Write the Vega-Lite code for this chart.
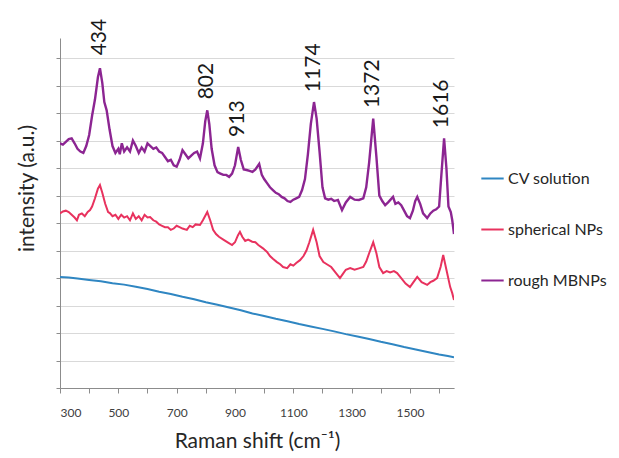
{
  "$schema": "https://vega.github.io/schema/vega-lite/v6.json",
  "width": 394,
  "height": 350,
  "autosize": "none",
  "padding": {"left": 60, "top": 38, "right": 165, "bottom": 70},
  "config": {"view": {"stroke": null}, "font": "Lato"},
  "datasets": {
    "cv": [
      {"shift": 300, "intensity": 4.04}, {"shift": 330, "intensity": 4.02}, {"shift": 360, "intensity": 3.98}, {"shift": 400, "intensity": 3.93},
      {"shift": 440, "intensity": 3.88}, {"shift": 480, "intensity": 3.81}, {"shift": 520, "intensity": 3.76}, {"shift": 560, "intensity": 3.68},
      {"shift": 600, "intensity": 3.6}, {"shift": 640, "intensity": 3.5}, {"shift": 680, "intensity": 3.42}, {"shift": 720, "intensity": 3.32},
      {"shift": 760, "intensity": 3.23}, {"shift": 800, "intensity": 3.12}, {"shift": 840, "intensity": 3.03}, {"shift": 880, "intensity": 2.93},
      {"shift": 920, "intensity": 2.83}, {"shift": 960, "intensity": 2.71}, {"shift": 1000, "intensity": 2.62}, {"shift": 1040, "intensity": 2.52},
      {"shift": 1080, "intensity": 2.43}, {"shift": 1120, "intensity": 2.33}, {"shift": 1160, "intensity": 2.24}, {"shift": 1200, "intensity": 2.15},
      {"shift": 1240, "intensity": 2.06}, {"shift": 1280, "intensity": 1.96}, {"shift": 1320, "intensity": 1.87}, {"shift": 1360, "intensity": 1.78},
      {"shift": 1400, "intensity": 1.68}, {"shift": 1440, "intensity": 1.59}, {"shift": 1480, "intensity": 1.49}, {"shift": 1520, "intensity": 1.4},
      {"shift": 1560, "intensity": 1.31}, {"shift": 1600, "intensity": 1.22}, {"shift": 1630, "intensity": 1.16}, {"shift": 1651, "intensity": 1.12}
    ],
    "spherical": [
      {"shift": 300, "intensity": 6.35}, {"shift": 310, "intensity": 6.42}, {"shift": 320, "intensity": 6.45}, {"shift": 330, "intensity": 6.4},
      {"shift": 340, "intensity": 6.3}, {"shift": 350, "intensity": 6.2}, {"shift": 358, "intensity": 6.1}, {"shift": 365, "intensity": 6.3},
      {"shift": 375, "intensity": 6.35}, {"shift": 385, "intensity": 6.25}, {"shift": 395, "intensity": 6.4}, {"shift": 403, "intensity": 6.47},
      {"shift": 410, "intensity": 6.6}, {"shift": 420, "intensity": 6.9}, {"shift": 430, "intensity": 7.25}, {"shift": 437, "intensity": 7.38},
      {"shift": 445, "intensity": 7.1}, {"shift": 455, "intensity": 6.7}, {"shift": 465, "intensity": 6.4}, {"shift": 471, "intensity": 6.36},
      {"shift": 480, "intensity": 6.25}, {"shift": 490, "intensity": 6.3}, {"shift": 500, "intensity": 6.15}, {"shift": 510, "intensity": 6.3},
      {"shift": 520, "intensity": 6.2}, {"shift": 530, "intensity": 6.25}, {"shift": 540, "intensity": 6.1}, {"shift": 550, "intensity": 6.35},
      {"shift": 560, "intensity": 6.15}, {"shift": 570, "intensity": 6.25}, {"shift": 580, "intensity": 6.1}, {"shift": 590, "intensity": 6.3},
      {"shift": 600, "intensity": 6.2}, {"shift": 609, "intensity": 6.22}, {"shift": 620, "intensity": 6.1}, {"shift": 630, "intensity": 6.05},
      {"shift": 640, "intensity": 5.95}, {"shift": 650, "intensity": 5.9}, {"shift": 660, "intensity": 5.85}, {"shift": 670, "intensity": 5.85},
      {"shift": 680, "intensity": 5.75}, {"shift": 690, "intensity": 5.8}, {"shift": 700, "intensity": 5.9}, {"shift": 710, "intensity": 5.85},
      {"shift": 720, "intensity": 5.8}, {"shift": 735, "intensity": 5.75}, {"shift": 745, "intensity": 5.9}, {"shift": 755, "intensity": 5.85},
      {"shift": 765, "intensity": 5.95}, {"shift": 780, "intensity": 5.93}, {"shift": 790, "intensity": 6.1}, {"shift": 805, "intensity": 6.4},
      {"shift": 815, "intensity": 6.1}, {"shift": 825, "intensity": 5.75}, {"shift": 835, "intensity": 5.6}, {"shift": 845, "intensity": 5.5},
      {"shift": 860, "intensity": 5.4}, {"shift": 875, "intensity": 5.3}, {"shift": 890, "intensity": 5.2}, {"shift": 900, "intensity": 5.3},
      {"shift": 910, "intensity": 5.55}, {"shift": 917, "intensity": 5.68}, {"shift": 925, "intensity": 5.5}, {"shift": 935, "intensity": 5.35},
      {"shift": 945, "intensity": 5.4}, {"shift": 959, "intensity": 5.32}, {"shift": 970, "intensity": 5.3}, {"shift": 980, "intensity": 5.2},
      {"shift": 996, "intensity": 5.08}, {"shift": 1010, "intensity": 4.95}, {"shift": 1020, "intensity": 4.8}, {"shift": 1030, "intensity": 4.7},
      {"shift": 1044, "intensity": 4.58}, {"shift": 1055, "intensity": 4.5}, {"shift": 1065, "intensity": 4.4}, {"shift": 1079, "intensity": 4.36},
      {"shift": 1090, "intensity": 4.5}, {"shift": 1100, "intensity": 4.45}, {"shift": 1110, "intensity": 4.55}, {"shift": 1123, "intensity": 4.65},
      {"shift": 1135, "intensity": 4.8}, {"shift": 1145, "intensity": 5.0}, {"shift": 1155, "intensity": 5.3}, {"shift": 1168, "intensity": 5.75},
      {"shift": 1180, "intensity": 5.3}, {"shift": 1190, "intensity": 4.8}, {"shift": 1203, "intensity": 4.58}, {"shift": 1215, "intensity": 4.5},
      {"shift": 1230, "intensity": 4.4}, {"shift": 1245, "intensity": 4.2}, {"shift": 1260, "intensity": 4.0}, {"shift": 1270, "intensity": 4.15},
      {"shift": 1280, "intensity": 4.3}, {"shift": 1295, "intensity": 4.36}, {"shift": 1310, "intensity": 4.3}, {"shift": 1325, "intensity": 4.35},
      {"shift": 1340, "intensity": 4.4}, {"shift": 1350, "intensity": 4.6}, {"shift": 1360, "intensity": 4.9}, {"shift": 1374, "intensity": 5.3},
      {"shift": 1385, "intensity": 4.9}, {"shift": 1395, "intensity": 4.4}, {"shift": 1408, "intensity": 4.18}, {"shift": 1420, "intensity": 4.25},
      {"shift": 1432, "intensity": 4.2}, {"shift": 1445, "intensity": 4.25}, {"shift": 1456, "intensity": 4.18}, {"shift": 1470, "intensity": 4.0},
      {"shift": 1485, "intensity": 3.8}, {"shift": 1500, "intensity": 3.67}, {"shift": 1512, "intensity": 3.85}, {"shift": 1525, "intensity": 4.04},
      {"shift": 1540, "intensity": 3.85}, {"shift": 1559, "intensity": 3.75}, {"shift": 1570, "intensity": 3.85}, {"shift": 1580, "intensity": 3.9},
      {"shift": 1593, "intensity": 4.0}, {"shift": 1605, "intensity": 4.4}, {"shift": 1614, "intensity": 4.84}, {"shift": 1625, "intensity": 4.3},
      {"shift": 1638, "intensity": 3.67}, {"shift": 1645, "intensity": 3.45}, {"shift": 1651, "intensity": 3.2}
    ],
    "rough": [
      {"shift": 300, "intensity": 8.9}, {"shift": 310, "intensity": 8.85}, {"shift": 320, "intensity": 8.95}, {"shift": 330, "intensity": 9.05},
      {"shift": 340, "intensity": 9.08}, {"shift": 350, "intensity": 8.9}, {"shift": 360, "intensity": 8.7}, {"shift": 370, "intensity": 8.6},
      {"shift": 380, "intensity": 8.55}, {"shift": 390, "intensity": 8.8}, {"shift": 400, "intensity": 9.2}, {"shift": 410, "intensity": 9.9},
      {"shift": 420, "intensity": 10.5}, {"shift": 430, "intensity": 11.3}, {"shift": 437, "intensity": 11.63}, {"shift": 445, "intensity": 11.1},
      {"shift": 452, "intensity": 10.4}, {"shift": 460, "intensity": 10.1}, {"shift": 470, "intensity": 9.4}, {"shift": 480, "intensity": 8.8},
      {"shift": 490, "intensity": 8.55}, {"shift": 500, "intensity": 8.7}, {"shift": 505, "intensity": 8.5}, {"shift": 512, "intensity": 8.9},
      {"shift": 520, "intensity": 8.6}, {"shift": 530, "intensity": 8.75}, {"shift": 540, "intensity": 8.6}, {"shift": 550, "intensity": 9.0},
      {"shift": 560, "intensity": 8.8}, {"shift": 570, "intensity": 8.55}, {"shift": 580, "intensity": 8.75}, {"shift": 590, "intensity": 8.6},
      {"shift": 600, "intensity": 8.9}, {"shift": 610, "intensity": 8.8}, {"shift": 620, "intensity": 8.7}, {"shift": 630, "intensity": 8.75},
      {"shift": 640, "intensity": 8.6}, {"shift": 650, "intensity": 8.55}, {"shift": 660, "intensity": 8.4}, {"shift": 670, "intensity": 8.25},
      {"shift": 680, "intensity": 8.3}, {"shift": 690, "intensity": 8.1}, {"shift": 700, "intensity": 8.05}, {"shift": 710, "intensity": 8.3},
      {"shift": 720, "intensity": 8.65}, {"shift": 730, "intensity": 8.5}, {"shift": 740, "intensity": 8.35}, {"shift": 750, "intensity": 8.45},
      {"shift": 760, "intensity": 8.55}, {"shift": 770, "intensity": 8.6}, {"shift": 780, "intensity": 8.35}, {"shift": 790, "intensity": 8.9},
      {"shift": 798, "intensity": 9.7}, {"shift": 805, "intensity": 10.1}, {"shift": 812, "intensity": 9.6}, {"shift": 820, "intensity": 8.7},
      {"shift": 830, "intensity": 8.1}, {"shift": 840, "intensity": 7.85}, {"shift": 850, "intensity": 7.8}, {"shift": 860, "intensity": 7.75},
      {"shift": 870, "intensity": 7.75}, {"shift": 880, "intensity": 7.68}, {"shift": 890, "intensity": 7.8}, {"shift": 900, "intensity": 8.1},
      {"shift": 911, "intensity": 8.77}, {"shift": 920, "intensity": 8.3}, {"shift": 930, "intensity": 7.95}, {"shift": 940, "intensity": 7.93},
      {"shift": 950, "intensity": 7.9}, {"shift": 960, "intensity": 7.86}, {"shift": 970, "intensity": 7.95}, {"shift": 983, "intensity": 8.15},
      {"shift": 992, "intensity": 7.75}, {"shift": 1000, "intensity": 7.6}, {"shift": 1010, "intensity": 7.45}, {"shift": 1020, "intensity": 7.3},
      {"shift": 1030, "intensity": 7.2}, {"shift": 1040, "intensity": 7.1}, {"shift": 1050, "intensity": 7.05}, {"shift": 1060, "intensity": 6.95},
      {"shift": 1070, "intensity": 6.9}, {"shift": 1080, "intensity": 6.8}, {"shift": 1090, "intensity": 6.77}, {"shift": 1100, "intensity": 6.85},
      {"shift": 1110, "intensity": 6.9}, {"shift": 1120, "intensity": 6.95}, {"shift": 1130, "intensity": 7.2}, {"shift": 1140, "intensity": 7.6},
      {"shift": 1150, "intensity": 8.5}, {"shift": 1160, "intensity": 9.6}, {"shift": 1171, "intensity": 10.4}, {"shift": 1180, "intensity": 9.8},
      {"shift": 1190, "intensity": 8.6}, {"shift": 1200, "intensity": 7.3}, {"shift": 1209, "intensity": 6.9}, {"shift": 1220, "intensity": 6.85},
      {"shift": 1230, "intensity": 6.88}, {"shift": 1240, "intensity": 6.8}, {"shift": 1253, "intensity": 6.84}, {"shift": 1267, "intensity": 6.47},
      {"shift": 1280, "intensity": 6.75}, {"shift": 1295, "intensity": 6.95}, {"shift": 1310, "intensity": 6.85}, {"shift": 1325, "intensity": 6.84},
      {"shift": 1340, "intensity": 6.9}, {"shift": 1350, "intensity": 7.3}, {"shift": 1360, "intensity": 8.2}, {"shift": 1374, "intensity": 9.8},
      {"shift": 1385, "intensity": 8.4}, {"shift": 1395, "intensity": 7.0}, {"shift": 1405, "intensity": 6.8}, {"shift": 1415, "intensity": 6.65},
      {"shift": 1425, "intensity": 6.75}, {"shift": 1442, "intensity": 6.95}, {"shift": 1450, "intensity": 6.7}, {"shift": 1460, "intensity": 6.75},
      {"shift": 1470, "intensity": 6.65}, {"shift": 1480, "intensity": 6.45}, {"shift": 1490, "intensity": 6.25}, {"shift": 1500, "intensity": 6.18},
      {"shift": 1510, "intensity": 6.45}, {"shift": 1518, "intensity": 6.8}, {"shift": 1525, "intensity": 6.95}, {"shift": 1535, "intensity": 6.7},
      {"shift": 1545, "intensity": 6.35}, {"shift": 1559, "intensity": 6.18}, {"shift": 1570, "intensity": 6.35}, {"shift": 1580, "intensity": 6.45},
      {"shift": 1590, "intensity": 6.5}, {"shift": 1600, "intensity": 6.6}, {"shift": 1608, "intensity": 7.8}, {"shift": 1617, "intensity": 9.08},
      {"shift": 1625, "intensity": 8.0}, {"shift": 1632, "intensity": 6.6}, {"shift": 1640, "intensity": 6.4}, {"shift": 1645, "intensity": 6.1},
      {"shift": 1651, "intensity": 5.6}
    ],
    "peaks": [
      {"shift": 437, "intensity": 12.1, "label": "434"},
      {"shift": 804, "intensity": 10.5, "label": "802"},
      {"shift": 910, "intensity": 9.13, "label": "913"},
      {"shift": 1170, "intensity": 10.76, "label": "1174"},
      {"shift": 1374, "intensity": 10.18, "label": "1372"},
      {"shift": 1610, "intensity": 9.45, "label": "1616"}
    ]
  },
  "encoding": {
    "x": {
      "field": "shift", "type": "quantitative",
      "scale": {"domain": [300, 1651], "nice": false, "zero": false},
      "axis": {
        "title": "Raman shift (cm⁻¹)",
        "values": [300, 400, 500, 600, 700, 800, 900, 1000, 1100, 1200, 1300, 1400, 1500, 1600],
        "labelExpr": "datum.value % 200 == 100 ? datum.label : ''",
        "format": "d",
        "grid": false,
        "domainColor": "#8c8c8c", "tickColor": "#8c8c8c", "tickSize": 5,
        "labelFontSize": 12, "labelColor": "#404040", "labelPadding": 14,
        "titleFontSize": 21, "titleFontWeight": "normal", "titleColor": "#262626", "titlePadding": 12
      }
    },
    "y": {
      "field": "intensity", "type": "quantitative",
      "scale": {"domain": [0, 12.73], "nice": false},
      "axis": {
        "title": "intensity (a.u.)",
        "values": [0, 1, 2, 3, 4, 5, 6, 7, 8, 9, 10, 11, 12],
        "labels": false,
        "grid": true, "gridColor": "#d9d9d9", "gridWidth": 1,
        "domainColor": "#8c8c8c", "tickColor": "#8c8c8c", "tickSize": 4,
        "titleFontSize": 21, "titleFontWeight": "normal", "titleColor": "#262626",
        "titleX": -33, "titleY": 150, "titleAngle": 270, "titleAlign": "center", "titleBaseline": "middle"
      }
    }
  },
  "layer": [
    {
      "data": {"name": "cv"},
      "mark": {"type": "line", "strokeWidth": 2, "clip": true},
      "encoding": {"color": {"datum": "CV solution", "type": "nominal"}}
    },
    {
      "data": {"name": "spherical"},
      "mark": {"type": "line", "strokeWidth": 2, "clip": true},
      "encoding": {"color": {"datum": "spherical NPs", "type": "nominal"}}
    },
    {
      "data": {"name": "rough"},
      "mark": {"type": "line", "strokeWidth": 2.4, "clip": true},
      "encoding": {
        "color": {
          "datum": "rough MBNPs", "type": "nominal",
          "scale": {"domain": ["CV solution", "spherical NPs", "rough MBNPs"], "range": ["#2f86c2", "#e8325e", "#8c2592"]},
          "legend": {
            "title": null, "orient": "none", "legendX": 420, "legendY": 128,
            "symbolType": "stroke", "symbolSize": 500, "symbolStrokeWidth": 2,
            "labelFontSize": 16, "labelColor": "#262626", "rowPadding": 30, "labelOffset": 3
          }
        }
      }
    },
    {
      "data": {"name": "peaks"},
      "mark": {"type": "text", "angle": 270, "align": "left", "baseline": "middle", "fontSize": 21, "color": "#1a1a1a", "clip": false},
      "encoding": {"text": {"field": "label"}}
    }
  ]
}
